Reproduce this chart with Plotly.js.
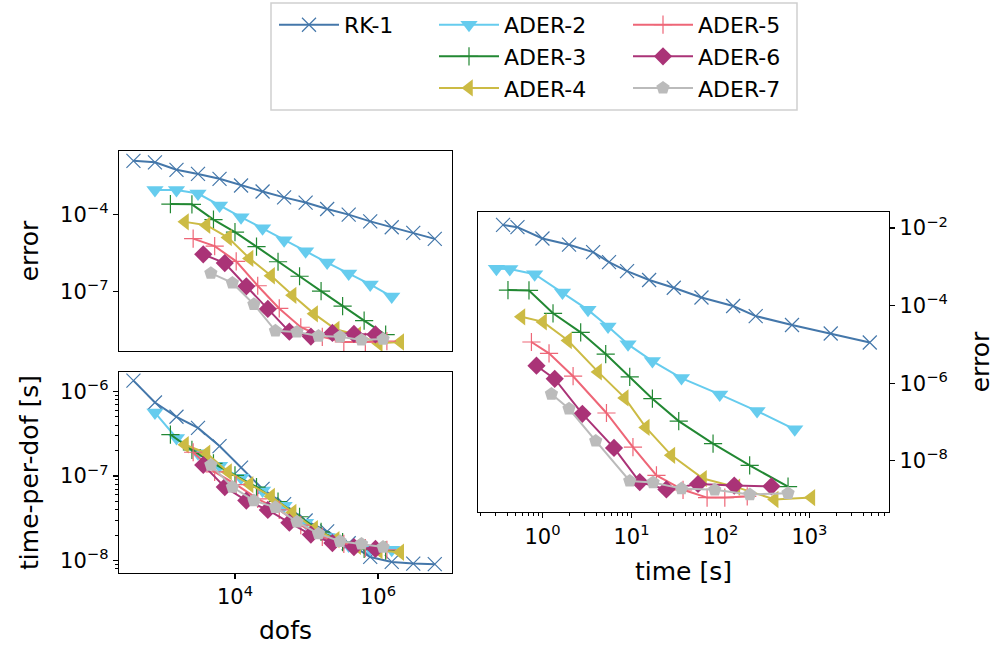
<!DOCTYPE html>
<html>
<head>
<meta charset="utf-8">
<script src="https://cdn.plot.ly/plotly-3.0.1.min.js"></script>
<style>html,body{margin:0;padding:0;background:#fff;}#chart{width:1000px;height:652px;}</style>
</head>
<body>
<div id="chart"></div>
<script>
// ---------- data ----------
const seriesNames = ["RK-1", "ADER-2", "ADER-3", "ADER-4", "ADER-5", "ADER-6", "ADER-7"];

const dofsRK1 = [380, 760, 1520, 3040, 6080, 12160, 24320, 48640, 97280, 194560, 389120, 778240, 1556480, 3112960, 6225920];
const errRK1  = [1.20e-2, 1.05e-2, 5.37e-3, 3.72e-3, 2.40e-3, 1.32e-3, 7.76e-4, 4.57e-4, 2.88e-4, 1.62e-4, 9.77e-5, 5.37e-5, 3.16e-5, 1.91e-5, 1.12e-5];
const timeRK1 = [0.361, 0.524, 1.0, 1.99, 3.71, 5.60, 8.93, 15.8, 29.9, 61.2, 139, 249, 637, 1734, 4764];
const tpdRK1  = [1.34e-6, 7.38e-7, 5.01e-7, 3.70e-7, 2.26e-7, 1.26e-7, 7.05e-8, 4.66e-8, 2.99e-8, 2.22e-8, 1.61e-8, 1.11e-8, 9.70e-9, 9.27e-9, 9.12e-9];

const dofsADER2 = [760, 1520, 3040, 6080, 12160, 24320, 48640, 97280, 194560, 389120, 778240, 1556480];
const errADER2  = [8.9e-4, 8.8e-4, 6.46e-4, 2.19e-4, 7.76e-5, 2.88e-5, 1.0e-5, 3.72e-6, 1.35e-6, 5.13e-7, 1.91e-7, 6.46e-8];
const timeADER2 = [0.304, 0.430, 0.818, 1.68, 3.25, 5.46, 9.16, 17.2, 36.5, 98.2, 258, 684];
const tpdADER2  = [5.62e-7, 2.82e-7, 1.86e-7, 1.32e-7, 9.55e-8, 6.76e-8, 4.47e-8, 2.82e-8, 1.91e-8, 1.51e-8, 1.38e-8, 1.35e-8];

const dofsADER3 = [1250, 2500, 5000, 10000, 20000, 40000, 80000, 160000, 320000, 640000, 1280000];
const errADER3  = [2.51e-4, 2.46e-4, 6.31e-5, 2.04e-5, 5.62e-6, 1.45e-6, 3.98e-7, 1.05e-7, 2.75e-8, 7.59e-9, 2.14e-9];
const timeADER3 = [0.410, 0.706, 1.315, 2.69, 5.14, 9.57, 17.2, 34.0, 82.6, 213, 575];
const tpdADER3  = [3.09e-7, 2.04e-7, 1.41e-7, 1.02e-7, 7.41e-8, 5.01e-8, 3.31e-8, 2.19e-8, 1.66e-8, 1.38e-8, 1.32e-8];

const dofsADER4 = [2000, 4000, 8000, 16000, 32000, 64000, 128000, 256000, 512000, 1024000, 2048000];
const errADER4  = [5.13e-5, 3.80e-5, 1.26e-5, 1.95e-6, 4.17e-7, 7.24e-8, 1.38e-8, 3.47e-9, 2.09e-9, 1.0e-9, 1.12e-9];
const timeADER4 = [0.581, 1.016, 1.94, 4.22, 8.41, 14.5, 28.1, 63.7, 151, 407, 1052];
const tpdADER4  = [2.34e-7, 1.86e-7, 1.12e-7, 7.94e-8, 5.75e-8, 3.72e-8, 2.40e-8, 1.78e-8, 1.48e-8, 1.32e-8, 1.26e-8];

const dofsADER5 = [2600, 5200, 10400, 20800, 41600, 83200, 166400, 332800, 665600, 1331200];
const errADER5  = [1.15e-5, 5.89e-6, 1.51e-6, 1.70e-7, 2.24e-8, 4.17e-9, 1.78e-9, 1.12e-9, 1.12e-9, 1.20e-9];
const timeADER5 = [0.752, 1.186, 2.21, 5.24, 10.4, 19.1, 38.0, 70.8, 112, 200];
const tpdADER5  = [1.91e-7, 1.12e-7, 7.94e-8, 5.37e-8, 3.98e-8, 2.63e-8, 1.91e-8, 1.58e-8, 1.41e-8, 1.35e-8];

const dofsADER6 = [3600, 7200, 14400, 28800, 57600, 115200, 230400, 460800, 921600];
const errADER6  = [2.82e-6, 1.29e-6, 1.62e-7, 2.14e-8, 2.82e-9, 1.82e-9, 2.51e-9, 2.29e-9, 2.19e-9];
const timeADER6 = [0.857, 1.374, 2.81, 6.37, 12.4, 24.7, 56.0, 143, 374];
const tpdADER6  = [1.35e-7, 7.41e-8, 5.13e-8, 3.98e-8, 2.82e-8, 2.04e-8, 1.62e-8, 1.45e-8, 1.38e-8];

const dofsADER7 = [4600, 9200, 18400, 36800, 73600, 147200, 294400, 588800, 1177600];
const errADER7  = [5.25e-7, 2.19e-7, 3.24e-8, 3.02e-9, 2.75e-9, 1.91e-9, 1.78e-9, 1.35e-9, 1.45e-9];
const timeADER7 = [1.262, 1.99, 3.97, 9.57, 17.5, 36.5, 86.3, 214, 575];
const tpdADER7  = [1.35e-7, 7.41e-8, 5.13e-8, 4.27e-8, 2.88e-8, 2.09e-8, 1.70e-8, 1.58e-8, 1.45e-8];

const dofsTickVals = [1e4, 1e6];
const dofsTickText = ["10<sup>4</sup>", "10<sup>6</sup>"];
const errLeftTickVals = [1e-4, 1e-7];
const errLeftTickText = ["10<sup>−4</sup>", "10<sup>−7</sup>"];
const tpdTickVals = [1e-6, 1e-7, 1e-8];
const tpdTickText = ["10<sup>−6</sup>", "10<sup>−7</sup>", "10<sup>−8</sup>"];
const timeTickVals = [1, 10, 100, 1000];
const timeTickText = ["10<sup>0</sup>", "10<sup>1</sup>", "10<sup>2</sup>", "10<sup>3</sup>"];
const errRightTickVals = [1e-2, 1e-4, 1e-6, 1e-8];
const errRightTickText = ["10<sup>−2</sup>", "10<sup>−4</sup>", "10<sup>−6</sup>", "10<sup>−8</sup>"];

// ---------- styles ----------
const FONT = "DejaVu Sans, sans-serif";
const styles = [
  {color: "#4477AA", symbol: "x-thin",        size: 14, thin: true},
  {color: "#66CCEE", symbol: "triangle-down", size: 15},
  {color: "#228833", symbol: "cross-thin",    size: 13, thin: true},
  {color: "#CCBB44", symbol: "triangle-left", size: 15},
  {color: "#EE6677", symbol: "cross-thin",    size: 13, thin: true},
  {color: "#AA3377", symbol: "diamond",       size: 14},
  {color: "#BBBBBB", symbol: "pentagon",      size: 14}
];
const legendOf = ["legend", "legend2", "legend2", "legend2", "legend3", "legend3", "legend3"];

const dofsAll = [dofsRK1, dofsADER2, dofsADER3, dofsADER4, dofsADER5, dofsADER6, dofsADER7];
const errAll  = [errRK1, errADER2, errADER3, errADER4, errADER5, errADER6, errADER7];
const timeAll = [timeRK1, timeADER2, timeADER3, timeADER4, timeADER5, timeADER6, timeADER7];
const tpdAll  = [tpdRK1, tpdADER2, tpdADER3, tpdADER4, tpdADER5, tpdADER6, tpdADER7];

function mk(i, x, y, xa, ya, show) {
  const s = styles[i];
  const marker = {symbol: s.symbol, size: s.size, color: s.color};
  marker.line = s.thin ? {color: s.color, width: 1.2} : {width: 0};
  return {
    type: "scatter", mode: "lines+markers", name: seriesNames[i],
    x: x, y: y, xaxis: xa, yaxis: ya,
    line: {color: s.color, width: 2},
    marker: marker, showlegend: show, legend: legendOf[i],
    cliponaxis: false
  };
}

const traces = [];
for (let i = 0; i < seriesNames.length; i++) {
  traces.push(mk(i, dofsAll[i], errAll[i], "x", "y", true));
  traces.push(mk(i, dofsAll[i], tpdAll[i], "x2", "y2", false));
  traces.push(mk(i, timeAll[i], errAll[i], "x3", "y3", false));
}

// minor tick positions (axis decoration)
function minorVals(lo, hi) {
  const v = [];
  for (let e = lo; e <= hi; e++) for (let m = 2; m <= 9; m++) v.push(m * Math.pow(10, e));
  return v;
}

const tickFont = {family: FONT, size: 21, color: "#000"};
const titleFont = {family: FONT, size: 25, color: "#000"};
const axBase = {
  type: "log", showgrid: false, zeroline: false, showline: true, linecolor: "#000", linewidth: 1.3,
  mirror: true, ticks: "outside", ticklen: 5, tickwidth: 1.2, tickcolor: "#000",
  tickfont: tickFont, tickmode: "array"
};
function ax(extra) { return Object.assign({}, axBase, extra); }

const legFont = {family: FONT, size: 22, color: "#000"};
const layout = {
  width: 1000, height: 652, autosize: false,
  margin: {l: 0, r: 0, t: 0, b: 0},
  paper_bgcolor: "#fff", plot_bgcolor: "#fff",
  font: {family: FONT, color: "#000"},
  xaxis: ax({domain: [0.119, 0.452], anchor: "y", range: [2.378, 7.035], showticklabels: false, ticks: "", tickvals: dofsTickVals, ticktext: dofsTickText}),
  yaxis: ax({domain: [0.4617, 0.7684], anchor: "x", range: [-9.30, -1.54], tickvals: errLeftTickVals, ticktext: errLeftTickText,
             title: {text: "error", font: titleFont, standoff: 14}}),
  xaxis2: ax({domain: [0.119, 0.452], anchor: "y2", range: [2.378, 7.035], tickvals: dofsTickVals, ticktext: dofsTickText,
             title: {text: "dofs", font: titleFont, standoff: 13}}),
  yaxis2: ax({domain: [0.1212, 0.4294], anchor: "x2", range: [-8.144, -5.772], tickvals: tpdTickVals, ticktext: tpdTickText,
             minor: {tickmode: "array", tickvals: minorVals(-9, -6), ticks: "outside", ticklen: 3, tickwidth: 1, tickcolor: "#000", showgrid: false},
             title: {text: "time-per-dof [s]", font: titleFont, standoff: 14}}),
  xaxis3: ax({domain: [0.478, 0.889], anchor: "y3", range: [-0.724, 3.894], tickvals: timeTickVals, ticktext: timeTickText,
             minor: {tickmode: "array", tickvals: minorVals(-1, 3), ticks: "outside", ticklen: 3, tickwidth: 1, tickcolor: "#000", showgrid: false},
             title: {text: "time [s]", font: titleFont, standoff: 15}}),
  yaxis3: ax({domain: [0.2147, 0.6748], anchor: "x3", side: "right", range: [-9.322, -1.588], tickvals: errRightTickVals, ticktext: errRightTickText,
             title: {text: "error", font: titleFont, standoff: 24}}),
  legend:  {x: 0.274, y: 0.994, xanchor: "left", yanchor: "top", bgcolor: "rgba(0,0,0,0)", font: legFont, itemwidth: 60, tracegroupgap: 0},
  legend2: {x: 0.434, y: 0.994, xanchor: "left", yanchor: "top", bgcolor: "rgba(0,0,0,0)", font: legFont, itemwidth: 60, tracegroupgap: 0},
  legend3: {x: 0.628, y: 0.994, xanchor: "left", yanchor: "top", bgcolor: "rgba(0,0,0,0)", font: legFont, itemwidth: 60, tracegroupgap: 0},
  shapes: [{type: "rect", xref: "paper", yref: "paper", x0: 0.271, x1: 0.797, y0: 1 - 110/652, y1: 1 - 3/652,
            line: {color: "#d0d0d0", width: 1.5}, fillcolor: "rgba(255,255,255,0)", layer: "below"}]
};

Plotly.newPlot("chart", traces, layout, {staticPlot: true, displayModeBar: false});
</script>
</body>
</html>
